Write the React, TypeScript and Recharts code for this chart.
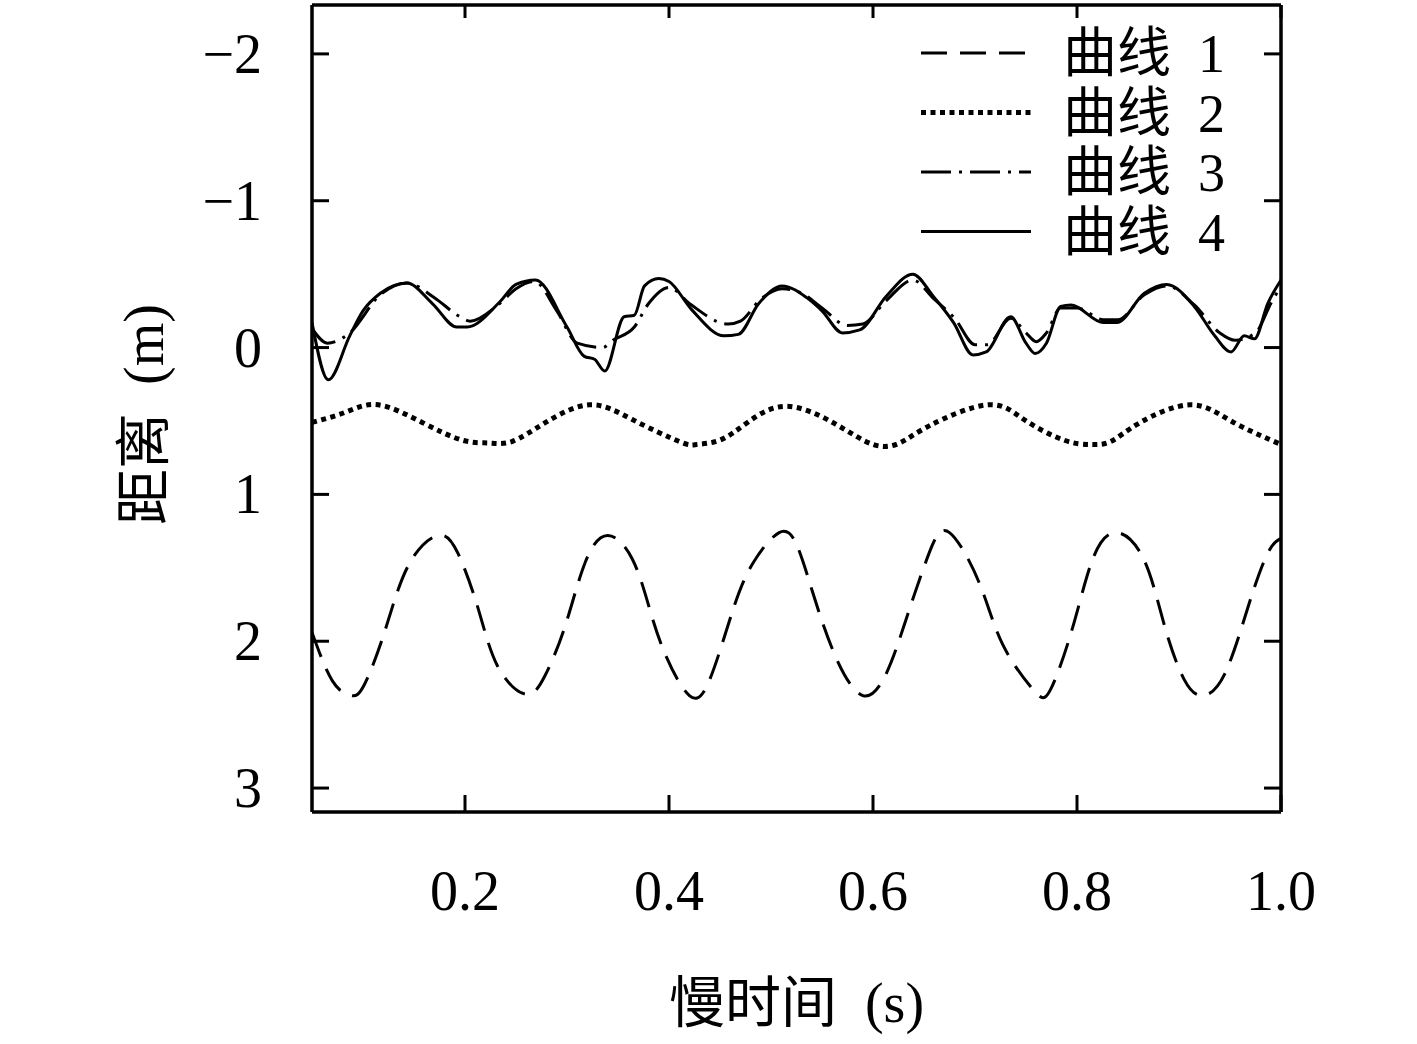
import React from 'react';
import { LineChart, Line, XAxis, YAxis, Legend } from 'recharts';

// slow time (s) / distance (m)
const curve1X = [0.05, 0.07, 0.088, 0.101, 0.121, 0.144, 0.173, 0.193, 0.213, 0.232, 0.259, 0.278, 0.298, 0.318, 0.34, 0.364, 0.381, 0.397, 0.42, 0.44, 0.463, 0.483, 0.508, 0.525, 0.541, 0.563, 0.59, 0.613, 0.632, 0.655, 0.675, 0.704, 0.727, 0.757, 0.774, 0.796, 0.816, 0.839, 0.866, 0.886, 0.905, 0.923, 0.945, 0.968, 0.987, 1.0];
const curve1Y = [1.94, 2.27, 2.37, 2.3, 1.94, 1.49, 1.28, 1.4, 1.78, 2.17, 2.36, 2.24, 1.9, 1.46, 1.28, 1.44, 1.78, 2.1, 2.37, 2.26, 1.78, 1.46, 1.26, 1.34, 1.67, 2.1, 2.37, 2.22, 1.86, 1.4, 1.26, 1.6, 2.02, 2.33, 2.33, 1.9, 1.43, 1.26, 1.45, 1.9, 2.26, 2.37, 2.22, 1.76, 1.4, 1.3];

const curve2X = [0.05, 0.083, 0.115, 0.158, 0.197, 0.223, 0.246, 0.279, 0.322, 0.364, 0.41, 0.427, 0.45, 0.477, 0.515, 0.563, 0.6, 0.626, 0.656, 0.712, 0.748, 0.787, 0.813, 0.833, 0.862, 0.911, 0.951, 1.0];
const curve2Y = [0.51, 0.44, 0.39, 0.51, 0.63, 0.65, 0.64, 0.51, 0.39, 0.49, 0.64, 0.66, 0.63, 0.51, 0.4, 0.52, 0.66, 0.65, 0.53, 0.39, 0.49, 0.63, 0.66, 0.64, 0.51, 0.39, 0.5, 0.66];

const curve3X = [0.05, 0.065, 0.087, 0.117, 0.143, 0.17, 0.195, 0.205, 0.234, 0.25, 0.268, 0.29, 0.31, 0.335, 0.345, 0.366, 0.38, 0.4, 0.42, 0.458, 0.47, 0.49, 0.511, 0.53, 0.55, 0.575, 0.59, 0.613, 0.639, 0.66, 0.68, 0.7, 0.712, 0.735, 0.75, 0.76, 0.77, 0.784, 0.8, 0.826, 0.84, 0.866, 0.888, 0.915, 0.94, 0.955, 0.975, 0.99, 1.0];
const curve3Y = [-0.13, -0.03, -0.1, -0.36, -0.44, -0.34, -0.21, -0.18, -0.3, -0.4, -0.45, -0.25, -0.03, 0.0, -0.05, -0.14, -0.3, -0.41, -0.3, -0.16, -0.18, -0.33, -0.4, -0.37, -0.27, -0.15, -0.16, -0.32, -0.46, -0.33, -0.2, -0.02, -0.02, -0.2, -0.1, -0.04, -0.1, -0.27, -0.27, -0.19, -0.19, -0.36, -0.42, -0.29, -0.1, -0.05, -0.1, -0.3, -0.42];

const curve4X = [0.05, 0.066, 0.087, 0.1, 0.117, 0.143, 0.168, 0.192, 0.202, 0.234, 0.25, 0.269, 0.3, 0.317, 0.327, 0.337, 0.356, 0.366, 0.376, 0.39, 0.4, 0.422, 0.454, 0.468, 0.488, 0.511, 0.535, 0.55, 0.57, 0.587, 0.613, 0.639, 0.659, 0.679, 0.698, 0.711, 0.735, 0.75, 0.759, 0.77, 0.784, 0.794, 0.826, 0.839, 0.866, 0.888, 0.915, 0.935, 0.951, 0.964, 0.974, 0.987, 1.0];
const curve4Y = [-0.17, 0.22, -0.08, -0.25, -0.37, -0.44, -0.3, -0.14, -0.14, -0.31, -0.43, -0.46, -0.14, 0.06, 0.08, 0.16, -0.21, -0.22, -0.42, -0.47, -0.45, -0.26, -0.08, -0.09, -0.3, -0.42, -0.34, -0.25, -0.1, -0.12, -0.35, -0.5, -0.35, -0.17, 0.05, 0.03, -0.21, -0.03, 0.04, -0.03, -0.28, -0.29, -0.17, -0.17, -0.37, -0.43, -0.28, -0.08, 0.03, -0.08, -0.06, -0.3, -0.46];

const xTicks = [0.2, 0.4, 0.6, 0.8, 1.0];
const yTicks = [-2, -1, 0, 1, 2, 3];
const legendNames = ['曲线 1', '曲线 2', '曲线 3', '曲线 4'];

const zip = (xs: number[], ys: number[]) => xs.map((x, i) => ({ x, y: ys[i] }));

const FONT = "'Liberation Serif', 'Noto Sans CJK SC', serif";
const TICK = 17;

const series = [
  { data: zip(curve1X, curve1Y), dash: '26 13', width: 3, type: 'natural' },
  { data: zip(curve2X, curve2Y), dash: '5 4.5', width: 5, type: 'natural' },
  { data: zip(curve3X, curve3Y), dash: '30 8 3 8', width: 3, type: 'monotoneX' },
  { data: zip(curve4X, curve4Y), dash: undefined, width: 3, type: 'monotoneX' },
];

const fmtY = (v: number) => (v < 0 ? '\u2212' + Math.abs(v) : String(v));

const LeftTick = ({ x, y, payload }: any) => (
  <g>
    <line x1={x} x2={x + TICK} y1={y} y2={y} stroke="#000" strokeWidth={3} />
    <text x={x - 50} y={y + 19} textAnchor="end" fontFamily={FONT} fontSize={56} fill="#000">
      {fmtY(payload.value)}
    </text>
  </g>
);

const RightTick = ({ x, y }: any) => (
  <line x1={x} x2={x - TICK} y1={y} y2={y} stroke="#000" strokeWidth={3} />
);

const BottomTick = ({ x, y, payload }: any) => (
  <g>
    <line x1={x} x2={x} y1={y} y2={y - TICK} stroke="#000" strokeWidth={3} />
    <text x={x} y={y + 98} textAnchor="middle" fontFamily={FONT} fontSize={56} fill="#000">
      {payload.value.toFixed(1)}
    </text>
  </g>
);

const TopTick = ({ x, y }: any) => (
  <line x1={x} x2={x} y1={y} y2={y + TICK - 4} stroke="#000" strokeWidth={3} />
);

const renderLegend = () => (
  <svg width={360} height={270}>
    {legendNames.map((name, i) => {
      const cy = 53 + i * 59.5;
      const s = series[i];
      return (
        <g key={name}>
          <line x1={21} x2={131} y1={cy} y2={cy} stroke="#000" strokeWidth={s.width} strokeDasharray={s.dash} />
          <text x={163} y={cy + 19} fontFamily={FONT} fontSize={54} fill="#000">
            {name.replace(' ', '\u2002')}
          </text>
        </g>
      );
    })}
  </svg>
);

export default function App() {
  return (
    <div style={{ position: 'absolute', left: 0, top: 0, background: '#fff' }}>
      <LineChart width={1417} height={1044} margin={{ top: 4, right: 135, bottom: 231, left: 311 }}>
        <XAxis
          xAxisId="bottom"
          type="number"
          dataKey="x"
          domain={[0.05, 1.0]}
          allowDataOverflow
          ticks={xTicks}
          height={1}
          tickSize={0}
          tickMargin={0}
          tickLine={false}
          axisLine={{ stroke: '#000', strokeWidth: 3.5 }}
          tick={<BottomTick />}
          interval={0}
          label={({ viewBox }: any) => (
            <text x={viewBox.x + viewBox.width / 2} y={viewBox.y + 210} textAnchor="middle" fontFamily={FONT} fontSize={56} fill="#000">
              {'慢时间\u2002(s)'}
            </text>
          )}
        />
        <XAxis
          xAxisId="top"
          orientation="top"
          type="number"
          dataKey="x"
          domain={[0.05, 1.0]}
          allowDataOverflow
          ticks={xTicks}
          height={1}
          tickSize={0}
          tickMargin={0}
          tickLine={false}
          axisLine={{ stroke: '#000', strokeWidth: 3.5 }}
          tick={<TopTick />}
          interval={0}
        />
        <YAxis
          yAxisId="left"
          type="number"
          domain={[-2.333, 3.163]}
          allowDataOverflow
          reversed
          ticks={yTicks}
          width={1}
          tickSize={0}
          tickMargin={0}
          tickLine={false}
          axisLine={{ stroke: '#000', strokeWidth: 3.5 }}
          tick={<LeftTick />}
          interval={0}
          label={({ viewBox }: any) => (
            <text
              x={163}
              y={viewBox.y + viewBox.height / 2 + 6}
              transform={`rotate(-90, 163, ${viewBox.y + viewBox.height / 2 + 6})`}
              textAnchor="middle"
              fontFamily={FONT}
              fontSize={56}
              fill="#000"
            >
              {'距离\u2002(m)'}
            </text>
          )}
        />
        <YAxis
          yAxisId="right"
          orientation="right"
          type="number"
          domain={[-2.333, 3.163]}
          allowDataOverflow
          reversed
          ticks={yTicks}
          width={1}
          tickSize={0}
          tickMargin={0}
          tickLine={false}
          axisLine={{ stroke: '#000', strokeWidth: 3.5 }}
          tick={<RightTick />}
          interval={0}
        />
        <Legend
          layout="horizontal"
          verticalAlign="middle"
          align="center"
          content={renderLegend}
          wrapperStyle={{ position: 'absolute', left: 900, top: 0, width: 360, height: 270 }}
        />
        {series.map((s, i) => (
          <Line
            key={i}
            xAxisId="bottom"
            yAxisId="left"
            data={s.data}
            dataKey="y"
            name={legendNames[i]}
            type={s.type as any}
            stroke="#000"
            strokeWidth={s.width}
            strokeDasharray={s.dash}
            dot={false}
            isAnimationActive={false}
          />
        ))}
      </LineChart>
    </div>
  );
}
